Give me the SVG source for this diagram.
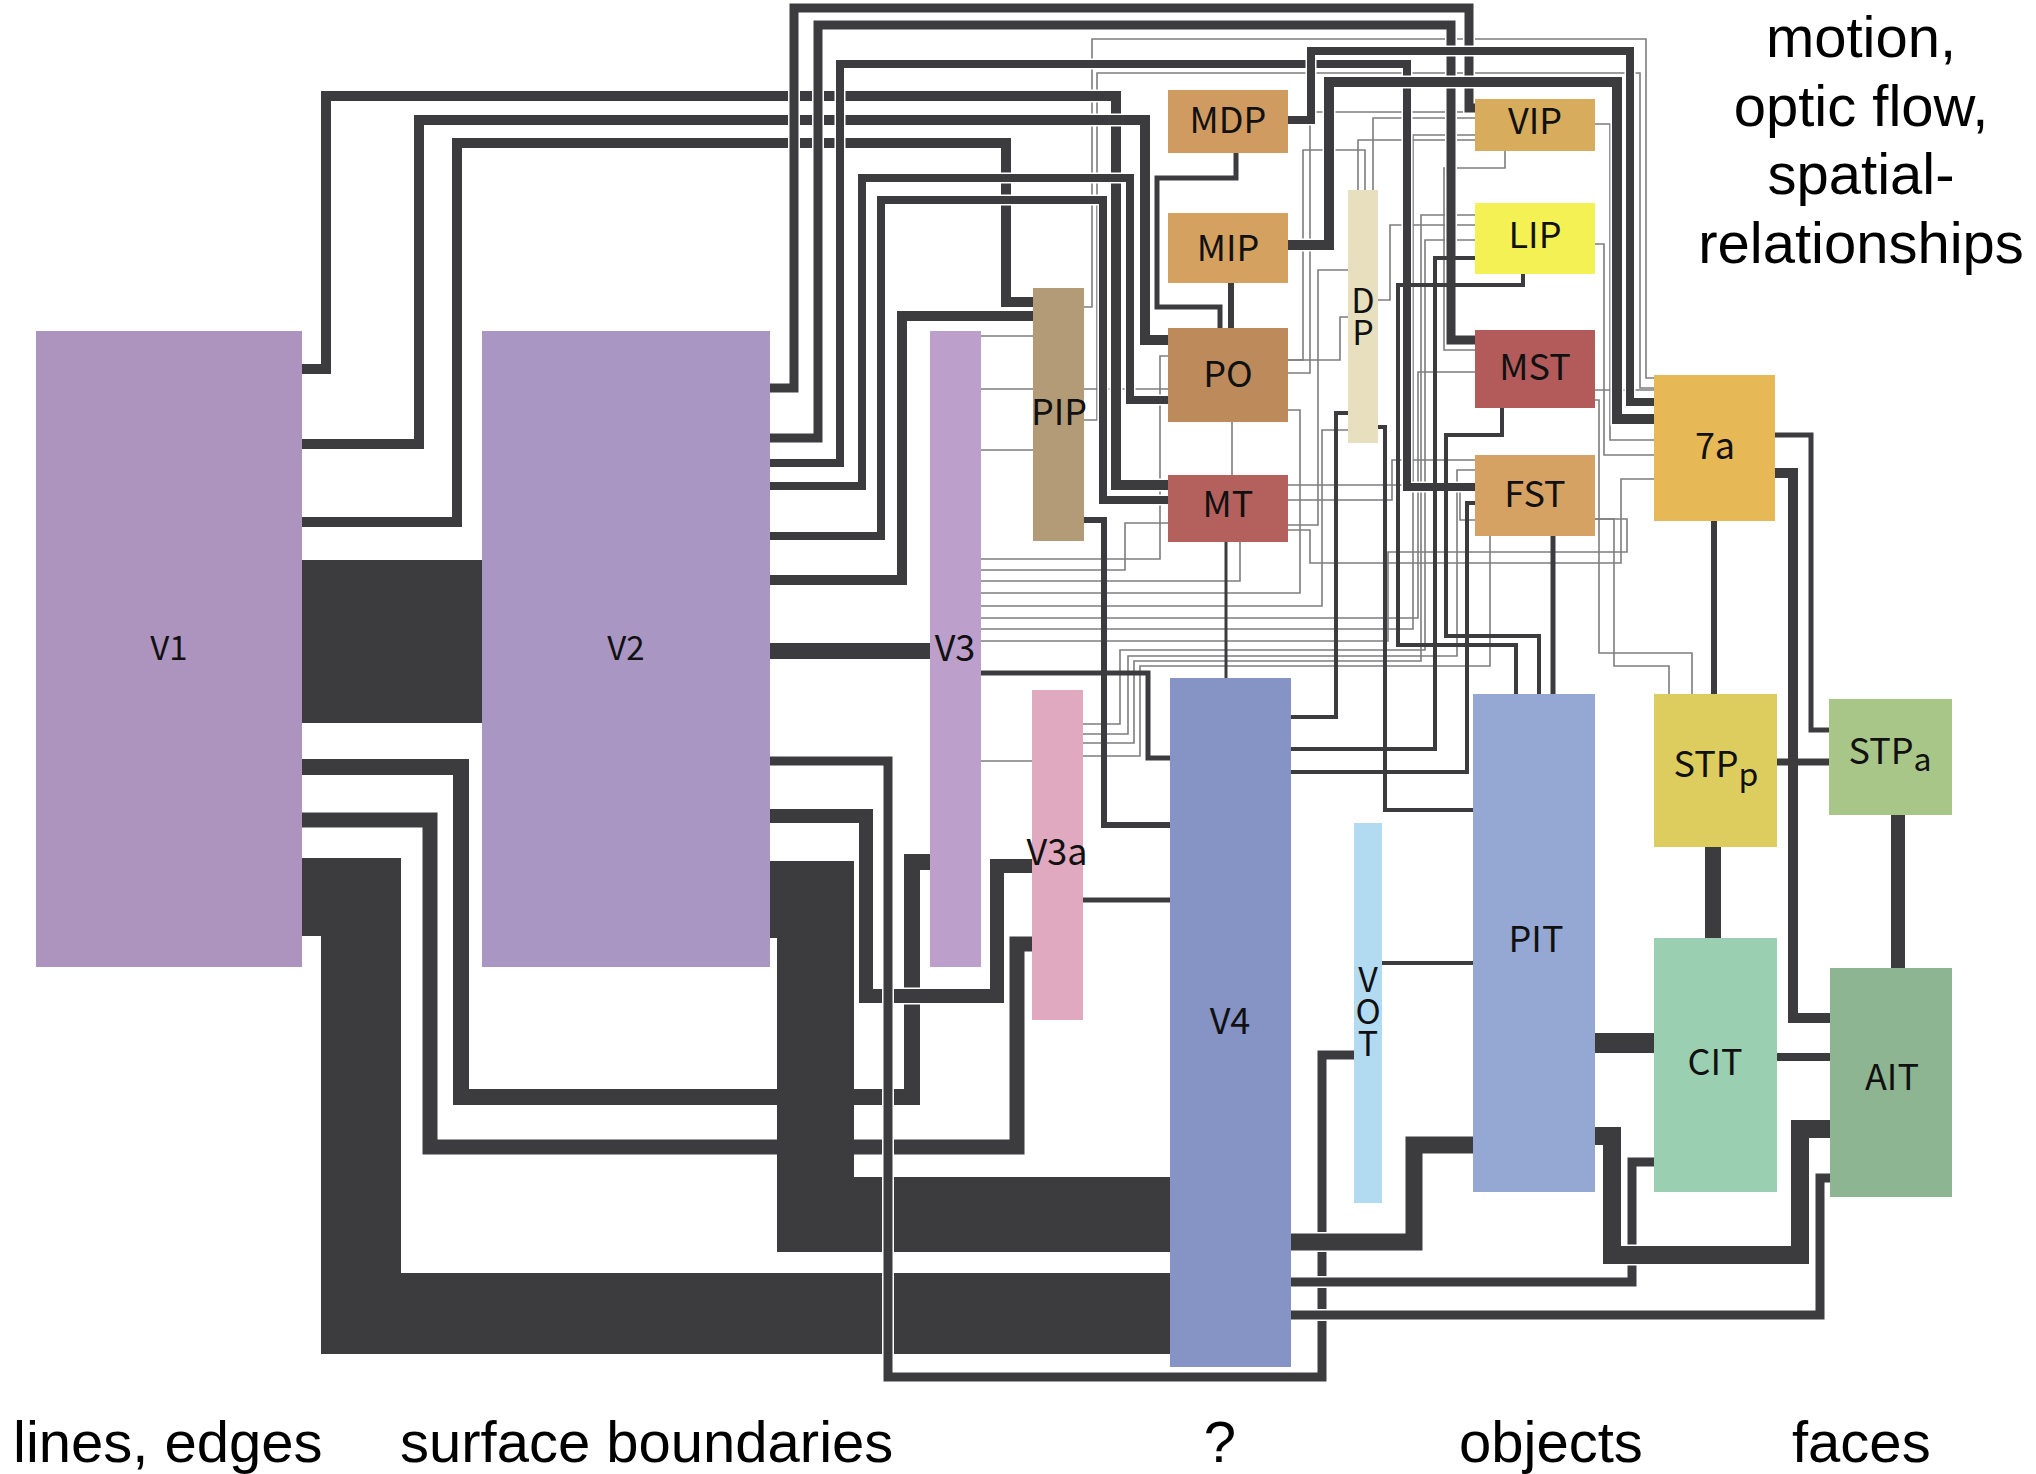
<svg xmlns="http://www.w3.org/2000/svg" width="2036" height="1474" viewBox="0 0 2036 1474">
<style>
.w{fill:none;stroke:#fff}
.k{fill:none;stroke:#3c3b3e}
.t{fill:none;stroke:#7d7d7d;stroke-width:1.6}
.blk{fill:#3c3b3e}
.lbl{font-family:"Noto Sans CJK SC","Open Sans",sans-serif;font-size:36px;fill:#111;text-anchor:middle}
.vt{writing-mode:vertical-rl;text-orientation:upright;font-size:34px;letter-spacing:-2px}
.cap{font-family:"Liberation Sans",Arial,sans-serif;font-size:58px;fill:#000}
</style>
<rect width="2036" height="1474" fill="#fff"/>
<g id="connectors">
<path class="w" stroke-width="19" d="M302,767H461V1097H912V862H931"/>
<path class="k" stroke-width="16" d="M302,767H461V1097H912V862H931"/>
<path class="w" stroke-width="18" d="M302,820H430V1147H1017V944H1032"/>
<path class="k" stroke-width="15" d="M302,820H430V1147H1017V944H1032"/>
<path class="w" stroke-width="17" d="M770,816H866V996H997V866H1032"/>
<path class="k" stroke-width="14" d="M770,816H866V996H997V866H1032"/>
<rect class="blk" x="302" y="560" width="180" height="163"/>
<path class="blk" d="M302,858H401V1273H1171V1354H321V936H302Z"/>
<path class="blk" d="M770,861H854V1177H1171V1252H777V938H770Z"/>
<path class="t" d="M1084,307H1092V39H1646V378H1654"/>
<path class="t" d="M1084,420H1097V73H1640V388H1654"/>
<path class="t" d="M981,336H1033"/>
<path class="t" d="M981,389H1033"/>
<path class="t" d="M981,450H1033"/>
<path class="t" d="M1084,389H1168"/>
<path class="t" d="M981,559H1160V356H1168"/>
<path class="t" d="M981,570H1125V523H1168"/>
<path class="t" d="M981,581H1240V542"/>
<path class="t" d="M981,593H1300V410H1288"/>
<path class="t" d="M981,606H1322V430H1348"/>
<path class="t" d="M981,618H1418V372H1475"/>
<path class="t" d="M981,629H1413V135H1475"/>
<path class="t" d="M981,641H1388V552H1627V519H1595"/>
<path class="t" d="M1083,724H1120V650H1425V240H1475"/>
<path class="t" d="M1083,734H1128V656H1457V470H1475"/>
<path class="t" d="M1083,743H1134V661H1421V215H1475"/>
<path class="t" d="M1083,756H1140V666H1490V536"/>
<path class="t" d="M981,761H1032"/>
<path class="t" d="M1288,360H1303V150H1365V190"/>
<path class="t" d="M1288,373H1310V112H1475"/>
<path class="t" d="M1595,124H1610V440H1654"/>
<path class="t" d="M1595,244H1604V455H1654"/>
<path class="t" d="M1595,400H1599V653H1692V694"/>
<path class="t" d="M1595,390H1654"/>
<path class="t" d="M1595,519H1614V666H1669V694"/>
<path class="t" d="M1654,479H1621V563H1310V530H1288"/>
<path class="t" d="M1288,485H1460V520H1475"/>
<path class="t" d="M1288,500H1392V460H1475"/>
<path class="t" d="M1348,270H1318V525H1288"/>
<path class="t" d="M1348,317H1340V360H1288"/>
<path class="t" d="M1475,118H1373V190"/>
<path class="t" d="M1475,140H1358V190"/>
<path class="t" d="M1475,225H1390V300H1378"/>
<path class="t" d="M1505,151V168H1444V350H1475"/>
<path class="t" d="M1232,422V475"/>
<path class="w" stroke-width="13" d="M302,369H326V96H1116V485H1169"/>
<path class="k" stroke-width="10" d="M302,369H326V96H1116V485H1169"/>
<path class="w" stroke-width="13" d="M302,444H419V120H1145V340H1169"/>
<path class="k" stroke-width="10" d="M302,444H419V120H1145V340H1169"/>
<path class="w" stroke-width="13" d="M302,522H457V143H1006V302H1034"/>
<path class="k" stroke-width="10" d="M302,522H457V143H1006V302H1034"/>
<path class="w" stroke-width="12" d="M770,388H794V8H1469V108H1476"/>
<path class="k" stroke-width="9" d="M770,388H794V8H1469V108H1476"/>
<path class="w" stroke-width="12" d="M770,438H818V25H1451V340H1476"/>
<path class="k" stroke-width="9" d="M770,438H818V25H1451V340H1476"/>
<path class="w" stroke-width="11" d="M770,463H840V64H1407V487H1476"/>
<path class="k" stroke-width="8" d="M770,463H840V64H1407V487H1476"/>
<path class="w" stroke-width="11" d="M770,486H862V178H1130V400H1169"/>
<path class="k" stroke-width="8" d="M770,486H862V178H1130V400H1169"/>
<path class="w" stroke-width="11" d="M770,536H881V200H1103V500H1169"/>
<path class="k" stroke-width="8" d="M770,536H881V200H1103V500H1169"/>
<path class="w" stroke-width="13" d="M770,580H902V316H1034"/>
<path class="k" stroke-width="10" d="M770,580H902V316H1034"/>
<path class="k" stroke-width="16" d="M770,651H931"/>
<path class="w" stroke-width="12" d="M770,761H888V1377H1322V1055H1355"/>
<path class="k" stroke-width="9" d="M770,761H888V1377H1322V1055H1355"/>
<path class="w" stroke-width="11" d="M1288,120H1311V51H1630V402H1655"/>
<path class="k" stroke-width="8" d="M1288,120H1311V51H1630V402H1655"/>
<path class="w" stroke-width="13" d="M1288,245H1329V82H1617V419H1655"/>
<path class="k" stroke-width="10" d="M1288,245H1329V82H1617V419H1655"/>
<path class="k" stroke-width="5" d="M1236,153V178H1157V307H1220V329"/>
<path class="k" stroke-width="6" d="M1231,283V329"/>
<path class="k" stroke-width="4" d="M1523,274V285H1398V645H1516V695"/>
<path class="k" stroke-width="4" d="M1502,408V435H1446V636H1539V695"/>
<path class="k" stroke-width="4" d="M1476,258H1435V749H1290"/>
<path class="k" stroke-width="4" d="M1476,503H1467V772H1290"/>
<path class="k" stroke-width="4" d="M1348,413H1336V717H1290"/>
<path class="k" stroke-width="4" d="M1378,427H1385V810H1474"/>
<path class="k" stroke-width="5" d="M1553,536V695"/>
<path class="k" stroke-width="6" d="M1714,521V695"/>
<path class="k" stroke-width="5" d="M1774,435H1811V730H1830"/>
<path class="k" stroke-width="5" d="M981,673H1148V758H1171"/>
<path class="k" stroke-width="6" d="M1084,520H1104V825H1171"/>
<path class="k" stroke-width="5" d="M1083,900H1171"/>
<path class="k" stroke-width="4" d="M1382,963H1474"/>
<path class="k" stroke-width="3" d="M1226,542V679"/>
<path class="w" stroke-width="20" d="M1290,1242H1414V1145H1474"/>
<path class="k" stroke-width="17" d="M1290,1242H1414V1145H1474"/>
<path class="w" stroke-width="12" d="M1290,1282H1632V1162H1655"/>
<path class="k" stroke-width="9" d="M1290,1282H1632V1162H1655"/>
<path class="w" stroke-width="12" d="M1290,1315H1820V1178H1831"/>
<path class="k" stroke-width="9" d="M1290,1315H1820V1178H1831"/>
<path class="w" stroke-width="21" d="M1594,1136H1612V1255H1800V1129H1831"/>
<path class="k" stroke-width="18" d="M1594,1136H1612V1255H1800V1129H1831"/>
<path class="k" stroke-width="20" d="M1594,1043H1655"/>
<path class="k" stroke-width="8" d="M1776,1057H1831"/>
<path class="w" stroke-width="13" d="M1774,473H1793V1018H1831"/>
<path class="k" stroke-width="10" d="M1774,473H1793V1018H1831"/>
<path class="k" stroke-width="7" d="M1776,762H1830"/>
<path class="k" stroke-width="16" d="M1713,846V939"/>
<path class="k" stroke-width="14" d="M1898,814V969"/>
</g>
<g id="V1"><rect x="36" y="331" width="266" height="636" fill="#ad94bf"/><text class="lbl" style="font-size:33px" x="169" y="660">V1</text></g>
<g id="V2"><rect x="482" y="331" width="288" height="636" fill="#a996c3"/><text class="lbl" style="font-size:33px" x="626" y="660">V2</text></g>
<g id="V3"><rect x="930" y="331" width="51" height="636" fill="#bc9fcb"/><text class="lbl" x="955" y="661">V3</text></g>
<g id="PIP"><rect x="1033" y="288" width="51" height="253" fill="#b49b78"/><text class="lbl" x="1059" y="425">PIP</text></g>
<g id="V3a"><rect x="1032" y="690" width="51" height="330" fill="#e1a9bf"/><text class="lbl" x="1057" y="865">V3a</text></g>
<g id="MDP"><rect x="1168" y="90" width="120" height="63" fill="#d09b61"/><text class="lbl" x="1228" y="133">MDP</text></g>
<g id="MIP"><rect x="1168" y="213" width="120" height="70" fill="#d4a161"/><text class="lbl" x="1228" y="261">MIP</text></g>
<g id="PO"><rect x="1168" y="328" width="120" height="94" fill="#bd8a5c"/><text class="lbl" x="1228" y="387">PO</text></g>
<g id="MT"><rect x="1168" y="475" width="120" height="67" fill="#b4605d"/><text class="lbl" x="1228" y="517">MT</text></g>
<g id="DP"><rect x="1348" y="190" width="30" height="253" fill="#e8dfbe"/><text class="lbl vt" x="1363" y="315">DP</text></g>
<g id="VIP"><rect x="1475" y="99" width="120" height="52" fill="#d8ac5d"/><text class="lbl" x="1535" y="134">VIP</text></g>
<g id="LIP"><rect x="1475" y="203" width="120" height="71" fill="#f3f154"/><text class="lbl" x="1535" y="248">LIP</text></g>
<g id="MST"><rect x="1475" y="330" width="120" height="78" fill="#b35b5b"/><text class="lbl" x="1535" y="380">MST</text></g>
<g id="FST"><rect x="1475" y="455" width="120" height="81" fill="#d6a264"/><text class="lbl" x="1535" y="507">FST</text></g>
<g id="A7a"><rect x="1654" y="375" width="121" height="146" fill="#e7b956"/><text class="lbl" x="1715" y="459">7a</text></g>
<g id="V4"><rect x="1170" y="678" width="121" height="689" fill="#8593c5"/><text class="lbl" x="1230" y="1034">V4</text></g>
<g id="VOT"><rect x="1354" y="823" width="28" height="380" fill="#b2dbf1"/><text class="lbl vt" x="1368" y="1010">VOT</text></g>
<g id="PIT"><rect x="1473" y="694" width="122" height="498" fill="#95a8d3"/><text class="lbl" x="1536" y="952">PIT</text></g>
<g id="STPp"><rect x="1654" y="694" width="123" height="153" fill="#ddcd5f"/><text class="lbl" x="1716" y="777">STP<tspan font-size="32" dy="9">p</tspan></text></g>
<g id="STPa"><rect x="1829" y="699" width="123" height="116" fill="#a8c688"/><text class="lbl" x="1890" y="764">STP<tspan font-size="32" dy="7">a</tspan></text></g>
<g id="CIT"><rect x="1654" y="938" width="123" height="254" fill="#9acfb2"/><text class="lbl" x="1715" y="1075">CIT</text></g>
<g id="AIT"><rect x="1830" y="968" width="122" height="229" fill="#8db591"/><text class="lbl" x="1892" y="1090">AIT</text></g>
<g id="captions">
<text class="cap" text-anchor="middle" x="1861" y="57">motion,</text>
<text class="cap" text-anchor="middle" x="1861" y="126">optic flow,</text>
<text class="cap" text-anchor="middle" x="1861" y="194">spatial-</text>
<text class="cap" text-anchor="middle" x="1861" y="263">relationships</text>
<text class="cap" x="13" y="1462">lines, edges</text>
<text class="cap" x="400" y="1462">surface boundaries</text>
<text class="cap" text-anchor="middle" x="1220" y="1462">?</text>
<text class="cap" x="1459" y="1462">objects</text>
<text class="cap" x="1792" y="1462">faces</text>
</g>
</svg>
